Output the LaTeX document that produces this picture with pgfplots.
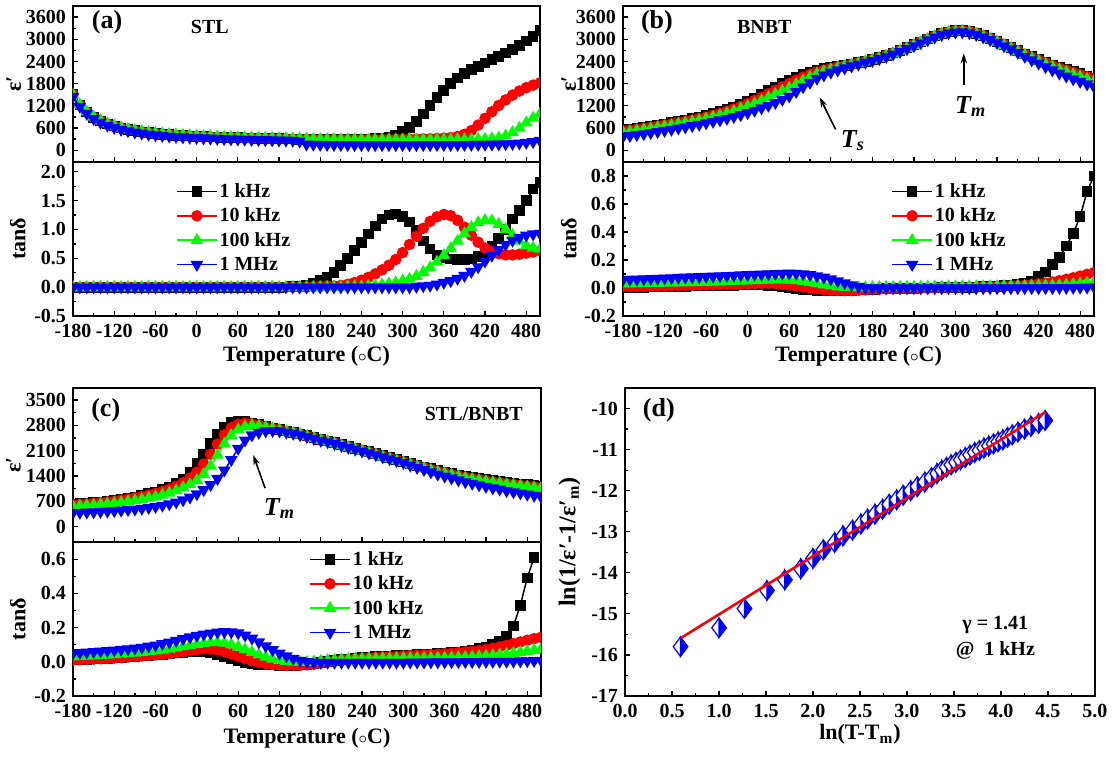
\documentclass[border=0pt]{standalone}
\usepackage{fontspec}
\setmainfont{Liberation Serif}
\usepackage{pgfplots}
\pgfplotsset{compat=1.18}
\usepackage{pgfplotstable}
\usetikzlibrary{plotmarks,arrows.meta}
\definecolor{cR}{RGB}{255,0,0}
\definecolor{cG}{RGB}{0,255,0}
\definecolor{cB}{RGB}{0,0,255}
\newcommand{\epsp}{ε′}
\newcommand{\degc}{($\scriptstyle\circ$C)}

\pgfdeclareplotmark{hdiamond}{%
  \pgfpathmoveto{\pgfqpoint{0pt}{\pgfplotmarksize}}%
  \pgfpathlineto{\pgfqpoint{.75\pgfplotmarksize}{0pt}}%
  \pgfpathlineto{\pgfqpoint{0pt}{-\pgfplotmarksize}}%
  \pgfpathlineto{\pgfqpoint{-.75\pgfplotmarksize}{0pt}}%
  \pgfpathclose
  \pgfsetfillcolor{white}%
  \pgfusepathqfillstroke
  \pgfpathmoveto{\pgfqpoint{0pt}{\pgfplotmarksize}}%
  \pgfpathlineto{\pgfqpoint{.75\pgfplotmarksize}{0pt}}%
  \pgfpathlineto{\pgfqpoint{0pt}{-\pgfplotmarksize}}%
  \pgfpathclose
  \pgfsetfillcolor{cB}%
  \pgfusepathqfillstroke
}

% ---------------- data ----------------
\pgfplotstableread{
T a b c d
-180 1500 1500 1500 1450
-170 1220 1220 1230 1180
-160 1030 1030 1040 990
-150 890 890 900 850
-140 790 790 800 750
-130 710 710 720 670
-120 650 650 660 610
-110 600 600 610 560
-100 560 560 570 520
-90 525 525 535 485
-80 495 495 505 455
-70 470 470 480 430
-60 450 450 460 410
-50 432 432 442 392
-40 418 418 428 378
-30 405 405 415 365
-20 394 394 404 354
-10 384 384 394 344
0 375 375 385 335
10 367 367 377 327
20 360 360 370 320
30 353 353 363 313
40 347 347 357 307
50 341 341 351 301
60 336 336 346 296
70 331 331 341 291
80 326 326 336 286
90 322 322 332 282
100 318 318 328 278
110 314 314 324 274
120 310 310 320 270
130 306 306 316 266
140 302 302 312 262
150 298 298 308 240
160 294 294 300 160
170 292 292 296 155
180 290 290 292 150
190 290 290 290 148
200 290 288 288 146
210 292 288 286 145
220 295 288 285 144
230 298 288 284 143
240 302 289 283 142
250 306 290 282 142
260 312 291 282 142
270 320 292 282 142
280 340 294 282 142
290 400 296 282 142
300 500 298 282 142
310 620 300 282 142
320 780 303 282 142
330 980 307 282 143
340 1200 312 283 143
350 1420 318 283 144
360 1620 326 284 145
370 1800 340 285 146
380 1950 370 286 147
390 2080 430 288 148
400 2180 530 290 150
410 2270 680 294 152
420 2360 860 300 155
430 2450 1040 312 158
440 2540 1210 335 162
450 2630 1360 390 168
460 2730 1490 480 176
470 2830 1600 600 188
480 2950 1690 740 205
490 3080 1760 870 228
500 3230 1820 980 260
}\tabAe

\pgfplotstableread{
T a b c d
-180 0 0 0 0
-170 0 0 0 0
-160 0 0 0 0
-150 0 0 0 0
-140 0 0 0 0
-130 0 0 0 0
-120 0 0 0 0
-110 0 0 0 0
-100 0 0 0 0
-90 0 0 0 0
-80 0 0 0 0
-70 0 0 0 0
-60 0 0 0 0
-50 0 0 0 0
-40 0 0 0 0
-30 0 0 0 0
-20 0 0 0 0
-10 0 0 0 0
0 0 0 0 0
10 0 0 0 0
20 0 0 0 0
30 0 0 0 0
40 0 0 0 0
50 0 0 0 0
60 0 0 0 0
70 0 0 0 0
80 0 0 0 0
90 0 0 0 0
100 0 0 0 0
110 0 0 0 0
120 0 0 0 0
130 0.005 0 0 0
140 0.01 0 0 0
150 0.02 0 0 0
160 0.04 0 0 0
170 0.07 0.01 0 0
180 0.11 0.01 0 0
190 0.17 0.02 0 0
200 0.26 0.02 0 0
210 0.37 0.03 0 0
220 0.50 0.05 0.01 0
230 0.63 0.08 0.01 0
240 0.77 0.12 0.01 0
250 0.92 0.17 0.02 0
260 1.06 0.23 0.03 0
270 1.18 0.30 0.04 0
280 1.25 0.38 0.06 0
290 1.27 0.48 0.08 0
300 1.23 0.60 0.11 0
310 1.13 0.74 0.14 0
320 0.99 0.88 0.19 0.01
330 0.80 1.02 0.26 0.02
340 0.66 1.14 0.34 0.03
350 0.56 1.22 0.44 0.05
360 0.52 1.26 0.55 0.08
370 0.49 1.24 0.67 0.11
380 0.48 1.16 0.80 0.15
390 0.48 1.04 0.93 0.20
400 0.49 0.90 1.04 0.27
410 0.53 0.78 1.12 0.35
420 0.60 0.68 1.16 0.45
430 0.70 0.62 1.15 0.55
440 0.84 0.58 1.09 0.65
450 1.00 0.56 1.00 0.74
460 1.18 0.56 0.90 0.81
470 1.33 0.57 0.80 0.86
480 1.50 0.59 0.72 0.90
490 1.70 0.61 0.68 0.92
500 1.82 0.63 0.66 0.93
}\tabAt

\pgfplotstableread{
T a b c d
-180 550 520 480 370
-170 570 540 500 390
-160 595 565 525 415
-150 620 590 550 440
-140 650 620 580 470
-130 680 650 610 500
-120 710 680 640 530
-110 740 710 670 560
-100 775 745 705 595
-90 810 780 735 625
-80 850 815 770 660
-70 890 855 805 695
-60 935 895 845 735
-50 985 945 890 775
-40 1040 995 940 815
-30 1100 1050 990 855
-20 1170 1115 1050 905
-10 1245 1185 1115 955
0 1325 1260 1185 1010
10 1415 1345 1260 1075
20 1510 1430 1340 1140
30 1610 1525 1425 1210
40 1710 1615 1510 1285
50 1810 1710 1595 1370
60 1900 1800 1680 1460
70 1980 1890 1780 1580
80 2050 1975 1880 1710
90 2110 2050 1975 1830
100 2160 2115 2060 1940
110 2200 2165 2125 2030
120 2235 2210 2180 2105
130 2265 2247 2225 2165
140 2295 2283 2265 2220
150 2330 2322 2310 2275
160 2365 2360 2350 2325
170 2405 2402 2395 2375
180 2450 2450 2440 2420
190 2500 2500 2490 2470
200 2560 2560 2550 2530
210 2625 2625 2615 2595
220 2695 2695 2685 2665
230 2770 2770 2760 2740
240 2850 2850 2840 2820
250 2930 2930 2920 2900
260 3010 3010 3000 2980
270 3085 3085 3075 3055
280 3150 3150 3140 3120
290 3200 3200 3185 3165
300 3230 3230 3210 3190
310 3235 3235 3215 3195
320 3210 3210 3190 3170
330 3165 3165 3145 3125
340 3100 3100 3080 3060
350 3025 3025 3005 2985
360 2945 2945 2925 2905
370 2860 2860 2840 2820
380 2775 2775 2755 2735
390 2690 2688 2665 2640
400 2605 2595 2575 2535
410 2525 2514 2490 2440
420 2450 2438 2410 2350
430 2375 2362 2327 2255
440 2305 2290 2250 2165
450 2240 2223 2178 2080
460 2180 2162 2110 2000
470 2120 2100 2043 1925
480 2065 2043 1980 1855
490 2010 1987 1918 1788
500 1955 1930 1855 1715
}\tabBe

\pgfplotstableread{
T a b c d
-180 0.000 0.010 0.030 0.060
-170 0.002 0.011 0.031 0.061
-160 0.005 0.012 0.032 0.062
-150 0.006 0.013 0.033 0.064
-140 0.008 0.014 0.034 0.066
-130 0.009 0.015 0.035 0.068
-120 0.010 0.016 0.036 0.070
-110 0.011 0.017 0.037 0.072
-100 0.012 0.018 0.038 0.074
-90 0.013 0.019 0.039 0.076
-80 0.014 0.020 0.040 0.078
-70 0.015 0.021 0.041 0.080
-60 0.016 0.022 0.042 0.082
-50 0.017 0.023 0.043 0.084
-40 0.018 0.024 0.044 0.086
-30 0.019 0.025 0.046 0.088
-20 0.020 0.026 0.048 0.090
-10 0.021 0.028 0.050 0.092
0 0.022 0.030 0.052 0.094
10 0.022 0.032 0.054 0.096
20 0.021 0.034 0.056 0.098
30 0.018 0.034 0.058 0.100
40 0.014 0.032 0.060 0.102
50 0.008 0.028 0.060 0.104
60 0.002 0.022 0.058 0.105
70 -0.004 0.015 0.054 0.104
80 -0.010 0.007 0.048 0.100
90 -0.014 0.000 0.040 0.094
100 -0.017 -0.006 0.032 0.086
110 -0.019 -0.011 0.024 0.076
120 -0.020 -0.015 0.016 0.064
130 -0.020 -0.017 0.010 0.050
140 -0.020 -0.018 0.006 0.036
150 -0.018 -0.018 0.003 0.022
160 -0.015 -0.016 0.002 0.010
170 -0.012 -0.013 0.004 0.002
180 -0.010 -0.011 0.005 0.000
190 -0.008 -0.009 0.006 0
200 -0.006 -0.007 0.006 0
210 -0.005 -0.006 0.007 0
220 -0.004 -0.005 0.007 0
230 -0.003 -0.004 0.007 0
240 -0.002 -0.003 0.008 0
250 -0.001 -0.002 0.008 0
260 0.000 -0.001 0.008 0
270 0.001 0.000 0.009 0
280 0.002 0.001 0.009 0
290 0.003 0.002 0.009 0
300 0.004 0.003 0.010 0
310 0.005 0.004 0.010 0
320 0.006 0.005 0.010 0
330 0.007 0.006 0.010 0
340 0.009 0.007 0.011 0
350 0.011 0.009 0.011 0
360 0.013 0.010 0.011 0
370 0.016 0.012 0.012 0
380 0.020 0.014 0.012 0
390 0.026 0.017 0.013 0
400 0.034 0.020 0.013 0
410 0.050 0.024 0.014 0
420 0.080 0.029 0.015 0
430 0.115 0.035 0.016 0.001
440 0.170 0.043 0.018 0.001
450 0.220 0.052 0.020 0.002
460 0.300 0.062 0.023 0.002
470 0.390 0.073 0.027 0.003
480 0.510 0.085 0.031 0.004
490 0.690 0.098 0.036 0.005
500 0.800 0.110 0.042 0.006
}\tabBt

\pgfplotstableread{
T a b c d
-180 620 600 560 390
-170 635 615 572 395
-160 650 630 585 402
-150 665 645 598 410
-140 685 665 613 418
-130 705 685 630 428
-120 730 708 650 440
-110 760 735 672 453
-100 790 765 697 468
-90 825 798 725 485
-80 865 835 757 505
-70 910 876 793 528
-60 960 922 833 555
-50 1020 975 880 590
-40 1095 1038 935 630
-30 1190 1115 1000 680
-20 1320 1215 1080 740
-10 1500 1345 1170 815
0 1750 1510 1280 905
10 2010 1730 1450 1020
20 2290 2000 1680 1160
30 2550 2280 1980 1330
40 2750 2540 2290 1560
50 2870 2730 2530 1850
60 2915 2830 2680 2160
70 2905 2860 2760 2390
80 2865 2840 2790 2530
90 2815 2800 2775 2600
100 2765 2755 2745 2640
110 2720 2715 2710 2650
120 2680 2675 2668 2640
130 2640 2634 2627 2610
140 2600 2593 2586 2575
150 2560 2552 2544 2535
160 2510 2502 2493 2484
170 2460 2451 2442 2433
180 2410 2400 2391 2382
190 2370 2359 2350 2341
200 2320 2309 2298 2290
210 2270 2258 2247 2239
220 2220 2207 2196 2188
230 2170 2156 2145 2137
240 2120 2105 2094 2086
250 2070 2055 2042 2035
260 2020 2004 1991 1984
270 1960 1943 1930 1923
280 1910 1893 1879 1872
290 1860 1842 1828 1821
300 1810 1791 1776 1770
310 1750 1730 1715 1698
320 1700 1679 1664 1635
330 1650 1628 1612 1573
340 1600 1577 1561 1510
350 1550 1526 1510 1448
360 1510 1485 1469 1395
370 1470 1444 1427 1343
380 1430 1403 1386 1290
390 1390 1362 1344 1238
400 1360 1331 1312 1195
410 1330 1300 1281 1153
420 1300 1269 1250 1110
430 1270 1238 1218 1068
440 1250 1217 1197 1035
450 1220 1186 1166 993
460 1200 1165 1145 960
470 1180 1144 1123 928
480 1160 1123 1102 895
490 1140 1102 1080 863
500 1120 1081 1059 830
}\tabCe

\pgfplotstableread{
T a b c d
-180 0.010 0.010 0.030 0.050
-170 0.012 0.012 0.032 0.053
-160 0.014 0.014 0.034 0.056
-150 0.016 0.016 0.036 0.059
-140 0.018 0.018 0.038 0.062
-130 0.020 0.020 0.040 0.065
-120 0.022 0.022 0.043 0.068
-110 0.025 0.025 0.046 0.071
-100 0.028 0.028 0.049 0.075
-90 0.031 0.031 0.052 0.079
-80 0.034 0.034 0.056 0.084
-70 0.037 0.037 0.060 0.090
-60 0.040 0.040 0.064 0.097
-50 0.043 0.044 0.069 0.105
-40 0.047 0.049 0.075 0.114
-30 0.051 0.054 0.082 0.124
-20 0.055 0.060 0.089 0.134
-10 0.058 0.066 0.096 0.144
0 0.060 0.071 0.103 0.153
10 0.058 0.075 0.109 0.161
20 0.052 0.075 0.113 0.167
30 0.042 0.070 0.114 0.172
40 0.030 0.060 0.110 0.175
50 0.017 0.047 0.100 0.174
60 0.005 0.033 0.087 0.168
70 -0.005 0.019 0.072 0.155
80 -0.012 0.007 0.056 0.137
90 -0.016 -0.003 0.041 0.115
100 -0.018 -0.010 0.028 0.092
110 -0.019 -0.015 0.017 0.070
120 -0.020 -0.018 0.009 0.050
130 -0.020 -0.020 0.003 0.033
140 -0.020 -0.020 -0.001 0.019
150 -0.019 -0.020 -0.003 0.008
160 -0.015 -0.018 -0.003 0.000
170 -0.010 -0.014 0.000 -0.003
180 -0.004 -0.008 0.004 -0.004
190 0.002 -0.002 0.008 -0.004
200 0.008 0.004 0.011 -0.004
210 0.013 0.009 0.013 -0.004
220 0.017 0.013 0.015 -0.004
230 0.021 0.017 0.016 -0.004
240 0.024 0.020 0.017 -0.004
250 0.027 0.023 0.018 -0.004
260 0.030 0.026 0.018 -0.004
270 0.032 0.028 0.019 -0.004
280 0.034 0.030 0.019 -0.004
290 0.036 0.032 0.019 -0.004
300 0.038 0.034 0.020 -0.004
310 0.040 0.036 0.020 -0.003
320 0.042 0.038 0.021 -0.003
330 0.044 0.040 0.021 -0.003
340 0.046 0.042 0.022 -0.002
350 0.048 0.044 0.022 -0.002
360 0.051 0.047 0.023 -0.002
370 0.054 0.050 0.024 -0.001
380 0.058 0.053 0.025 -0.001
390 0.063 0.057 0.027 0.000
400 0.069 0.061 0.029 0.000
410 0.077 0.066 0.031 0.000
420 0.087 0.072 0.034 0.001
430 0.100 0.079 0.037 0.001
440 0.120 0.087 0.041 0.002
450 0.150 0.096 0.045 0.002
460 0.210 0.106 0.050 0.003
470 0.330 0.116 0.056 0.004
480 0.490 0.126 0.062 0.005
490 0.610 0.135 0.068 0.006
500 nan 0.143 0.074 0.008
}\tabCt

\pgfplotstableread{
x y
0.59 -15.80
1.00 -15.34
1.27 -14.87
1.51 -14.43
1.70 -14.17
1.87 -13.90
2.00 -13.65
2.11 -13.44
2.23 -13.26
2.32 -13.10
2.42 -12.96
2.51 -12.81
2.58 -12.69
2.66 -12.57
2.74 -12.45
2.81 -12.33
2.89 -12.22
2.96 -12.11
3.04 -12.00
3.11 -11.90
3.19 -11.79
3.26 -11.68
3.32 -11.58
3.37 -11.50
3.42 -11.43
3.47 -11.37
3.52 -11.31
3.57 -11.25
3.62 -11.19
3.67 -11.13
3.72 -11.07
3.77 -11.02
3.82 -10.96
3.87 -10.91
3.92 -10.86
3.97 -10.81
4.02 -10.76
4.07 -10.70
4.12 -10.64
4.18 -10.57
4.25 -10.50
4.32 -10.43
4.40 -10.36
4.47 -10.29
}\tabD

\pgfplotsset{
  common/.style={
    scale only axis,
    axis line style={line width=0.75pt},
    tick align=inside,
    tick pos=left,
    major tick length=2.6pt,
    minor tick length=1.5pt,
    every tick/.append style={black, line width=0.6pt},
    tick label style={font=\fontsize{10}{12}\selectfont\bfseries},
    xticklabel style={yshift=-0.8pt},
    /pgf/number format/assume math mode=true,
    /pgf/number format/1000 sep={},
    label style={font=\fontsize{11}{13}\selectfont\bfseries},
    minor x tick num=1, minor y tick num=1,
    clip=true,
    clip marker paths=true,
  },
  tempx/.style={xmin=-180, xmax=500, xtick={-180,-120,...,480}},
  yfix/.style={yticklabel style={/pgf/number format/fixed, /pgf/number format/fixed zerofill, /pgf/number format/precision=1}},
  s1/.style={black, line width=0.75pt, mark=square*, mark size=2.3pt, mark options={solid}},
  s2/.style={cR, line width=0.75pt, mark=*, mark size=2.5pt, mark options={solid}},
  s3/.style={cG, line width=0.75pt, mark=triangle*, mark size=2.9pt, mark options={solid}},
  s4/.style={cB, line width=0.75pt, mark=triangle*, mark size=2.9pt, mark options={solid, rotate=180}},
  leg/.style={
    legend style={at={#1}, anchor=north west, draw=none, fill=none,
      font=\fontsize{10}{12}\selectfont\bfseries, inner sep=0pt, row sep=1.2pt,
      nodes={inner sep=1pt, text height=7.5pt, text depth=1.5pt}},
    legend cell align=left,
    legend image code/.code={\draw[mark repeat=2,mark phase=2] plot coordinates {(0pt,0pt) (10pt,0pt) (20pt,0pt)};},
  },
}

\begin{document}
\begin{tikzpicture}
\useasboundingbox (0,0) rectangle (557.5pt,-378pt);

% ===== (a) top =====
\begin{axis}[common, tempx, at={(36.5pt,-3pt)}, anchor=north west,
  width=233.5pt, height=78pt, xticklabels={},
  ymin=-320, ymax=3900, ytick={0,600,...,3600},
  ylabel={\epsp}, ylabel style={at={(axis description cs:-0.127,0.5)}, anchor=center}]
\addplot[s1] table[x=T,y=a]{\tabAe};
\addplot[s2] table[x=T,y=b]{\tabAe};
\addplot[s3] table[x=T,y=c]{\tabAe};
\addplot[s4] table[x=T,y=d]{\tabAe};
\node[font=\fontsize{13}{15}\selectfont\bfseries] at (rel axis cs:0.073,0.897) {(a)};
\node[font=\fontsize{10}{12}\selectfont\bfseries] at (rel axis cs:0.293,0.865) {STL};
\end{axis}

% ===== (a) bottom =====
\begin{axis}[common, tempx, yfix, leg={(0.22,0.883)}, at={(36.5pt,-81pt)}, anchor=north west,
  width=233.5pt, height=77pt,
  ymin=-0.5, ymax=2.17, ytick={-0.5,0,0.5,1,1.5,2},
  xlabel={Temperature \degc}, xlabel style={at={(axis description cs:0.5,-0.26)}, anchor=center},
  ylabel={tanδ}, ylabel style={at={(axis description cs:-0.118,0.5)}, anchor=center}]
\addplot[s1] table[x=T,y=a]{\tabAt};
\addplot[s2] table[x=T,y=b]{\tabAt};
\addplot[s3] table[x=T,y=c]{\tabAt};
\addplot[s4] table[x=T,y=d]{\tabAt};
\legend{1 kHz,10 kHz,100 kHz,1 MHz}
\end{axis}

% ===== (b) top =====
\begin{axis}[common, tempx, at={(311.5pt,-3pt)}, anchor=north west,
  width=235.5pt, height=78pt, xticklabels={},
  ymin=-320, ymax=3900, ytick={0,600,...,3600},
  ylabel={\epsp}, ylabel style={at={(axis description cs:-0.115,0.5)}, anchor=center}]
\addplot[s1] table[x=T,y=a]{\tabBe};
\addplot[s2] table[x=T,y=b]{\tabBe};
\addplot[s3] table[x=T,y=c]{\tabBe};
\addplot[s4] table[x=T,y=d]{\tabBe};
\node[font=\fontsize{13}{15}\selectfont\bfseries] at (rel axis cs:0.072,0.897) {(b)};
\node[font=\fontsize{10}{12}\selectfont\bfseries] at (rel axis cs:0.30,0.865) {BNBT};
\draw[-{Stealth[length=5pt,width=3.2pt]}, line width=0.8pt] (axis cs:127,560) -- (axis cs:104,1430);
\node[font=\fontsize{13}{15}\selectfont\bfseries\itshape] at (axis cs:152,260) {T\textsubscript{s}};
\draw[-{Stealth[length=5pt,width=3.2pt]}, line width=0.8pt] (axis cs:312,1750) -- (axis cs:312,2620);
\node[font=\fontsize{13}{15}\selectfont\bfseries\itshape] at (axis cs:322,1180) {T\textsubscript{m}};
\end{axis}

% ===== (b) bottom =====
\begin{axis}[common, tempx, yfix, leg={(0.569,0.883)}, at={(311.5pt,-81pt)}, anchor=north west,
  width=235.5pt, height=77pt,
  ymin=-0.2, ymax=0.9, ytick={-0.2,0,0.2,0.4,0.6,0.8},
  xlabel={Temperature \degc}, xlabel style={at={(axis description cs:0.5,-0.26)}, anchor=center},
  ylabel={tanδ}, ylabel style={at={(axis description cs:-0.115,0.5)}, anchor=center}]
\addplot[s1] table[x=T,y=a]{\tabBt};
\addplot[s2] table[x=T,y=b]{\tabBt};
\addplot[s3] table[x=T,y=c]{\tabBt};
\addplot[s4] table[x=T,y=d]{\tabBt};
\legend{1 kHz,10 kHz,100 kHz,1 MHz}
\end{axis}

% ===== (c) top =====
\begin{axis}[common, tempx, at={(36.5pt,-194pt)}, anchor=north west,
  width=234pt, height=77pt, xticklabels={},
  ymin=-420, ymax=3830, ytick={0,700,...,3500},
  ylabel={\epsp}, ylabel style={at={(axis description cs:-0.127,0.5)}, anchor=center}]
\addplot[s1] table[x=T,y=a]{\tabCe};
\addplot[s2] table[x=T,y=b]{\tabCe};
\addplot[s3] table[x=T,y=c]{\tabCe};
\addplot[s4] table[x=T,y=d]{\tabCe};
\node[font=\fontsize{13}{15}\selectfont\bfseries] at (rel axis cs:0.07,0.857) {(c)};
\node[font=\fontsize{10}{12}\selectfont\bfseries, anchor=east] at (rel axis cs:0.976,0.83) {STL/BNBT};
\draw[-{Stealth[length=5pt,width=3.2pt]}, line width=0.8pt] (axis cs:99,1070) -- (axis cs:82,1980);
\node[font=\fontsize{13}{15}\selectfont\bfseries\itshape] at (axis cs:120,500) {T\textsubscript{m}};
\end{axis}

% ===== (c) bottom =====
\begin{axis}[common, tempx, yfix, leg={(0.504,0.961)}, at={(36.5pt,-271pt)}, anchor=north west,
  width=234pt, height=77pt,
  ymin=-0.2, ymax=0.7, ytick={-0.2,0,0.2,0.4,0.6},
  xlabel={Temperature \degc}, xlabel style={at={(axis description cs:0.5,-0.275)}, anchor=center},
  ylabel={tanδ}, ylabel style={at={(axis description cs:-0.118,0.5)}, anchor=center}]
\addplot[s1] table[x=T,y=a]{\tabCt};
\addplot[s2] table[x=T,y=b]{\tabCt};
\addplot[s3] table[x=T,y=c]{\tabCt};
\addplot[s4] table[x=T,y=d]{\tabCt};
\legend{1 kHz,10 kHz,100 kHz,1 MHz}
\end{axis}

% ===== (d) =====
\begin{axis}[common, at={(312.5pt,-194pt)}, anchor=north west,
  width=235pt, height=154pt,
  xmin=0, xmax=5, ymin=-17, ymax=-9.5,
  xtick={0,0.5,...,5}, ytick={-17,-16,...,-10},
  xticklabel style={/pgf/number format/fixed, /pgf/number format/fixed zerofill, /pgf/number format/precision=1},
  xlabel={ln(T-T\textsubscript{m})}, xlabel style={at={(axis description cs:0.5,-0.125)}, anchor=center},
  ylabel={ln(1/\epsp-1/\epsp\textsubscript{m})}, ylabel style={font=\fontsize{12}{14}\selectfont\bfseries, at={(axis description cs:-0.118,0.5)}, anchor=center}]
\addplot[only marks, color=cB, mark=hdiamond, mark size=4.8pt, mark options={line width=0.6pt}] table[x=x,y=y]{\tabD};
\addplot[cR, line width=1.3pt] coordinates {(0.6,-15.58) (4.47,-10.09)};
\node[font=\fontsize{13}{15}\selectfont\bfseries] at (rel axis cs:0.072,0.929) {(d)};
\node[font=\fontsize{10}{12}\selectfont\bfseries] at (axis cs:3.94,-15.28) {γ = 1.41};
\node[font=\fontsize{10}{12}\selectfont\bfseries] at (axis cs:3.94,-15.89) {@\enspace 1 kHz};
\end{axis}
\end{tikzpicture}
\end{document}
